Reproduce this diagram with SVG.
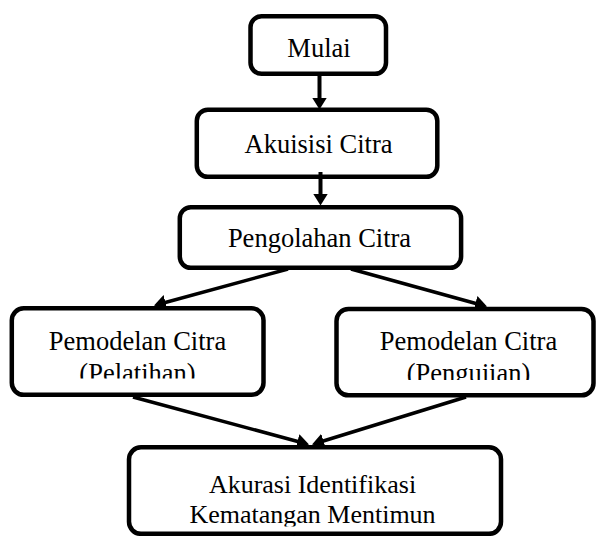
<svg xmlns="http://www.w3.org/2000/svg" width="596" height="536" viewBox="0 0 596 536">
<style>
.box{fill:#fff;stroke:#000;stroke-width:4.5}
.lbl{font-family:"Liberation Serif","Times New Roman",serif;font-size:26.5px;fill:#000;text-anchor:middle}
.sm{font-size:26px}
.con{stroke:#000;fill:none}
.v{stroke-width:4}
.d{stroke-width:3.5}
</style>
<defs>
<marker id="ah" markerUnits="userSpaceOnUse" viewBox="0 0 12 15" refX="7" refY="7.5" markerWidth="12" markerHeight="15" orient="auto">
<path d="M0,0 L12,7.5 L0,15 z" fill="#000"/>
</marker>
<clipPath id="clipL"><rect x="0" y="300" width="300" height="78.5"/></clipPath>
<clipPath id="clipR"><rect x="300" y="300" width="296" height="80"/></clipPath>
<clipPath id="clipB"><rect x="100" y="440" width="440" height="86.5"/></clipPath>
</defs>
<rect width="596" height="536" fill="#fff"/>
<g id="connectors">
<line class="con v" x1="319.5" y1="76" x2="319.5" y2="104.5" marker-end="url(#ah)"/>
<line class="con v" x1="320.5" y1="172" x2="320.5" y2="200.5" marker-end="url(#ah)"/>
</g>
<g id="mulai">
<rect class="box" x="250.5" y="16.3" width="135.5" height="57.5" rx="11"/>
<text class="lbl" x="319" y="57">Mulai</text>
</g>
<g id="akuisisi">
<rect class="box" x="196.8" y="109.8" width="240.5" height="67" rx="11"/>
<text class="lbl" x="318.5" y="153">Akuisisi Citra</text>
</g>
<g id="stub">
<line class="con v" x1="320.5" y1="172" x2="320.5" y2="178"/>
</g>
<g id="pengolahan">
<rect class="box" x="179.8" y="207.3" width="281.3" height="60.5" rx="11"/>
<text class="lbl" x="319.5" y="246.5">Pengolahan Citra</text>
</g>
<g id="pelatihan">
<rect class="box" x="11.8" y="308.3" width="251.7" height="86.5" rx="12"/>
<g clip-path="url(#clipL)">
<text class="lbl" x="137.5" y="349.5">Pemodelan Citra</text>
<text class="lbl" x="137.5" y="381.5">(Pelatihan)</text>
</g>
</g>
<g id="pengujian">
<rect class="box" x="336.5" y="309" width="257" height="86.3" rx="12"/>
<g clip-path="url(#clipR)">
<text class="lbl" x="468.5" y="350">Pemodelan Citra</text>
<text class="lbl" x="468.5" y="382">(Pengujian)</text>
</g>
</g>
<g id="akurasi">
<rect class="box" x="129" y="447.3" width="372" height="86.5" rx="12"/>
<g clip-path="url(#clipB)">
<text class="lbl sm" x="312.5" y="493">Akurasi Identifikasi</text>
<text class="lbl sm" x="312.5" y="523">Kematangan Mentimun</text>
</g>
</g>
<g id="diag-connectors">
<line class="con d" x1="288" y1="269" x2="158.8" y2="304.2" marker-end="url(#ah)"/>
<line class="con d" x1="351" y1="269" x2="482.2" y2="305.2" marker-end="url(#ah)"/>
<line class="con d" x1="133" y1="397" x2="304.2" y2="443.2" marker-end="url(#ah)"/>
<line class="con d" x1="466" y1="397" x2="316.8" y2="443" marker-end="url(#ah)"/>
</g>
</svg>
